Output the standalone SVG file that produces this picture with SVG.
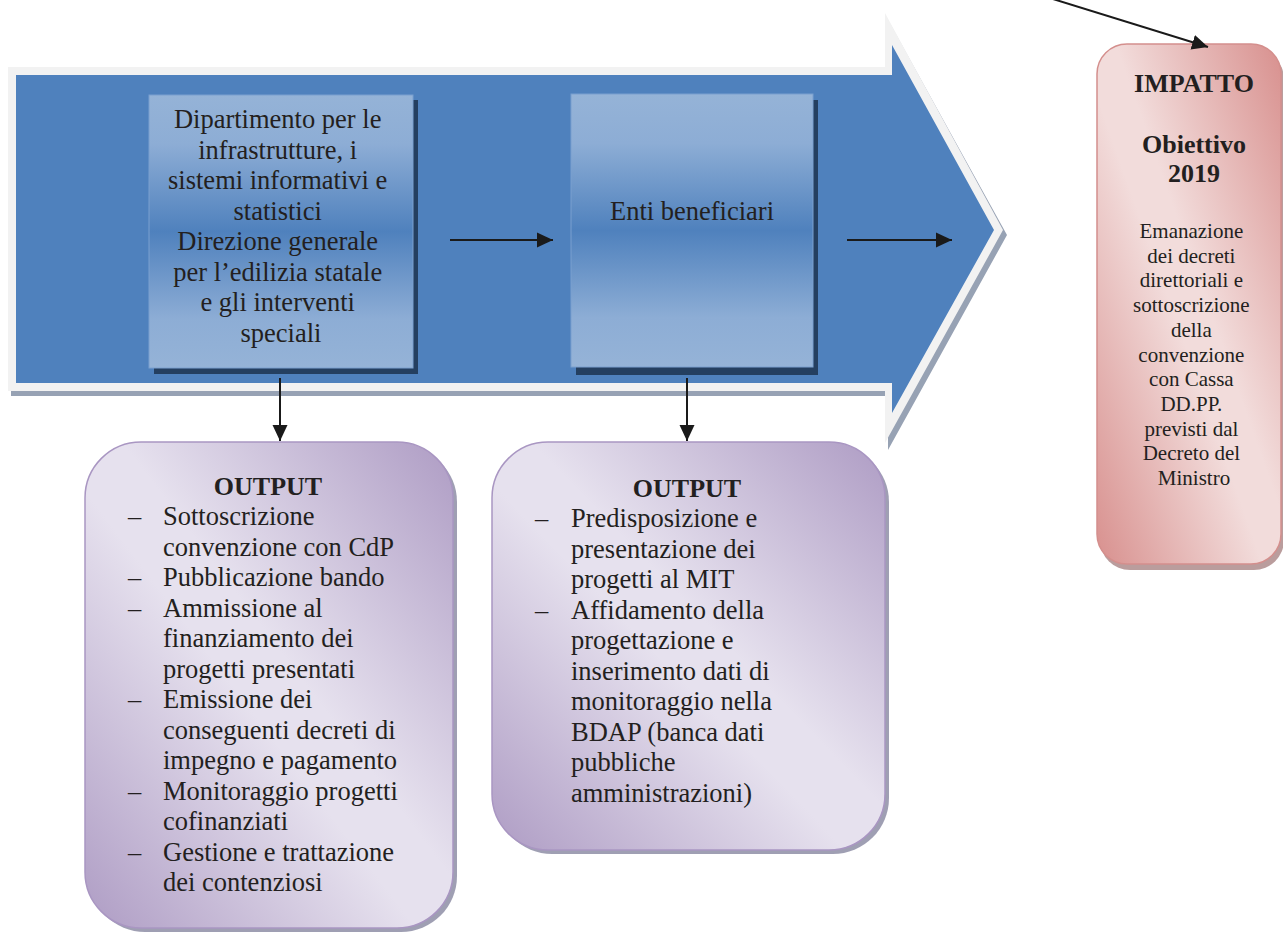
<svg xmlns="http://www.w3.org/2000/svg" width="1283" height="933" viewBox="0 0 1283 933">
  <defs>
    <style>
      .t { font-family: "Liberation Serif", "Times New Roman", serif; fill: #231f20; }
      .body { font-size: 26.5px; }
      .small { font-size: 21px; }
      .bold { font-size: 26px; font-weight: bold; }
      .mid { text-anchor: middle; }
      .conn { stroke: #1a1a1a; stroke-width: 2; fill: none; }
      .stage { stroke: #7aa0cf; stroke-width: 1; }
    </style>
    <linearGradient id="stageFill" x1="0" y1="0" x2="0" y2="1">
      <stop offset="0" stop-color="#95b3d7"/>
      <stop offset="0.18" stop-color="#8dadd5"/>
      <stop offset="0.5" stop-color="#4f81bd"/>
      <stop offset="0.82" stop-color="#8dadd5"/>
      <stop offset="1" stop-color="#95b3d7"/>
    </linearGradient>
    <linearGradient id="outFill" x1="1" y1="0" x2="0" y2="1">
      <stop offset="0" stop-color="#ae9cc4"/>
      <stop offset="0.45" stop-color="#e6e1ee"/>
      <stop offset="0.55" stop-color="#e6e1ee"/>
      <stop offset="1" stop-color="#ae9cc4"/>
    </linearGradient>
    <linearGradient id="impFill" x1="1" y1="0" x2="0" y2="1">
      <stop offset="0" stop-color="#d8908e"/>
      <stop offset="0.45" stop-color="#f2dcdb"/>
      <stop offset="0.55" stop-color="#f2dcdb"/>
      <stop offset="1" stop-color="#d8908e"/>
    </linearGradient>
    <marker id="head" markerUnits="userSpaceOnUse" markerWidth="18" markerHeight="16" viewBox="0 0 18 16" refX="16" refY="8" orient="auto">
      <path d="M0,0.5 L16,8 L0,15.5 Z" fill="#1a1a1a"/>
    </marker>
  </defs>

  <!-- process band: block arrow with border and drop shadow -->
  <g id="process-band">
    <polygon points="11,72 888,72 888,20 1007,235 888,450 888,396 11,396" fill="#97a2b4"/>
    <polygon points="8,67 885,67 885,13 1003,230 885,443 885,391 8,391" fill="#f2f2f2"/>
    <polygon points="16,75 892,75 892,45 994,230 892,413 892,383 16,383" fill="#4f81bd"/>
  </g>

  <!-- first stage: administration -->
  <g id="stage-dipartimento">
    <rect x="154" y="100" width="264" height="274" fill="#243f60"/>
    <rect x="149" y="95" width="264" height="273" fill="url(#stageFill)" class="stage"/>
    <text class="t body mid" x="281">
      <tspan x="281" y="128">Dipartimento per le</tspan>
      <tspan x="281" y="158.5">infrastrutture, i</tspan>
      <tspan x="281" y="189">sistemi informativi e</tspan>
      <tspan x="281" y="219.5">statistici</tspan>
      <tspan x="281" y="250">Direzione generale</tspan>
      <tspan x="281" y="280.5">per l’edilizia statale</tspan>
      <tspan x="281" y="311">e gli interventi</tspan>
      <tspan x="281" y="341.5">speciali</tspan>
    </text>
  </g>

  <!-- second stage: beneficiaries -->
  <g id="stage-enti">
    <rect x="576" y="100" width="242" height="275" fill="#243f60"/>
    <rect x="571" y="94" width="242" height="273" fill="url(#stageFill)" class="stage"/>
    <text class="t body mid" x="692" y="220">Enti beneficiari</text>
  </g>

  <!-- outputs of the administration -->
  <g id="output-dipartimento">
    <rect x="89" y="446" width="368" height="486" rx="56" fill="#7f7f99" opacity="0.75"/>
    <rect x="85" y="442" width="368" height="486" rx="56" fill="url(#outFill)" stroke="#a996c2" stroke-width="1.5"/>
    <text class="t bold mid" x="268" y="495">OUTPUT</text>
    <g class="t body">
      <text x="128" y="525">–</text>
      <text x="128" y="586">–</text>
      <text x="128" y="616.5">–</text>
      <text x="128" y="708">–</text>
      <text x="128" y="799.5">–</text>
      <text x="128" y="860.5">–</text>
      <text x="163">
        <tspan x="163" y="525">Sottoscrizione</tspan>
        <tspan x="163" y="555.5">convenzione con CdP</tspan>
        <tspan x="163" y="586">Pubblicazione bando</tspan>
        <tspan x="163" y="616.5">Ammissione al</tspan>
        <tspan x="163" y="647">finanziamento dei</tspan>
        <tspan x="163" y="677.5">progetti presentati</tspan>
        <tspan x="163" y="708">Emissione dei</tspan>
        <tspan x="163" y="738.5">conseguenti decreti di</tspan>
        <tspan x="163" y="769">impegno e pagamento</tspan>
        <tspan x="163" y="799.5">Monitoraggio progetti</tspan>
        <tspan x="163" y="830">cofinanziati</tspan>
        <tspan x="163" y="860.5">Gestione e trattazione</tspan>
        <tspan x="163" y="891">dei contenziosi</tspan>
      </text>
    </g>
  </g>

  <!-- outputs of the beneficiaries -->
  <g id="output-enti">
    <rect x="496" y="446" width="393" height="408" rx="56" fill="#7f7f99" opacity="0.75"/>
    <rect x="492" y="442" width="393" height="408" rx="56" fill="url(#outFill)" stroke="#a996c2" stroke-width="1.5"/>
    <text class="t bold mid" x="687" y="497">OUTPUT</text>
    <g class="t body">
      <text x="535" y="527">–</text>
      <text x="535" y="618.5">–</text>
      <text x="571">
        <tspan x="571" y="527">Predisposizione e</tspan>
        <tspan x="571" y="557.5">presentazione dei</tspan>
        <tspan x="571" y="588">progetti al MIT</tspan>
        <tspan x="571" y="618.5">Affidamento della</tspan>
        <tspan x="571" y="649">progettazione e</tspan>
        <tspan x="571" y="679.5">inserimento dati di</tspan>
        <tspan x="571" y="710">monitoraggio nella</tspan>
        <tspan x="571" y="740.5">BDAP (banca dati</tspan>
        <tspan x="571" y="771">pubbliche</tspan>
        <tspan x="571" y="801.5">amministrazioni)</tspan>
      </text>
    </g>
  </g>

  <!-- impact -->
  <g id="impatto">
    <rect x="1100" y="49" width="184" height="521" rx="30" fill="#a98585" opacity="0.8"/>
    <rect x="1097" y="44" width="184" height="520" rx="30" fill="url(#impFill)" stroke="#d48f8d" stroke-width="1.5"/>
    <text class="t bold mid" x="1194" y="92">IMPATTO</text>
    <text class="t bold mid" x="1194" y="153">Obiettivo</text>
    <text class="t bold mid" x="1194" y="182">2019</text>
    <text class="t small mid" x="1194">
      <tspan x="1194" y="238">Emanazione</tspan>
      <tspan x="1194" y="262.7">dei decreti</tspan>
      <tspan x="1194" y="287.4">direttoriali e</tspan>
      <tspan x="1194" y="312">sottoscrizione</tspan>
      <tspan x="1194" y="336.8">della</tspan>
      <tspan x="1194" y="361.5">convenzione</tspan>
      <tspan x="1194" y="386">con Cassa</tspan>
      <tspan x="1194" y="411">DD.PP.</tspan>
      <tspan x="1194" y="435.5">previsti dal</tspan>
      <tspan x="1194" y="460">Decreto del</tspan>
      <tspan x="1194" y="485">Ministro</tspan>
    </text>
  </g>

  <!-- connectors -->
  <g id="connectors">
    <line class="conn" x1="450" y1="240" x2="553" y2="240" marker-end="url(#head)"/>
    <line class="conn" x1="847" y1="240" x2="952" y2="240" marker-end="url(#head)"/>
    <line class="conn" x1="280" y1="378" x2="280" y2="441" marker-end="url(#head)"/>
    <line class="conn" x1="687" y1="378" x2="687" y2="441" marker-end="url(#head)"/>
    <line class="conn" x1="1040" y1="-5" x2="1208" y2="47" marker-end="url(#head)"/>
  </g>
</svg>
